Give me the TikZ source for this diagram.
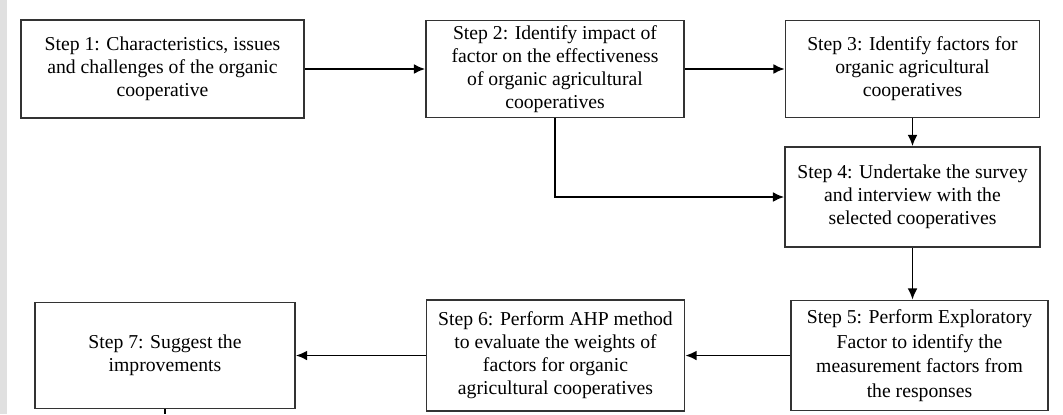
\documentclass[tikz,border=0pt]{standalone}
\usepackage{fontspec}
\setmainfont{Liberation Serif}
\usetikzlibrary{
    arrows.meta,
    positioning
}

\begin{document}
\begin{tikzpicture}[x=0.025cm, y=-0.025cm, >={Latex[length=8pt, width=7pt]}, line width=1.2pt,
    stepbox/.style={draw=black!80, fill=white, align=center, inner sep=0pt,
        font=\fontsize{14}{16.3}\selectfont}]
    \useasboundingbox (0, 0) rectangle (1063, 414);
    \fill[black!12] (0, 0) rectangle (7, 414);

    \node[stepbox, minimum width=7.075cm, minimum height=2.45cm] (s1) at (162.5, 69) {Step 1: Characteristics, issues\\and challenges of the organic\\cooperative};
    \node[stepbox, minimum width=6.45cm, minimum height=2.425cm] (s2) at (555, 69) {Step 2: Identify impact of\\factor on the effectiveness\\of organic agricultural\\cooperatives};
    \node[stepbox, minimum width=6.35cm, minimum height=2.425cm] (s3) at (912.5, 69) {Step 3: Identify factors for\\organic agricultural\\cooperatives};
    \node[stepbox, minimum width=6.375cm, minimum height=2.5cm] (s4) at (912.5, 197) {Step 4: Undertake the survey\\and interview with the\\selected cooperatives};
    \node[stepbox, minimum width=6.425cm, minimum height=2.75cm, font=\fontsize{14}{17.5}\selectfont] (s5) at (919.5, 355.5) {Step 5: Perform Exploratory\\Factor to identify the\\measurement factors from\\the responses};
    \node[stepbox, minimum width=6.45cm, minimum height=2.775cm] (s6) at (555.5, 355.5) {Step 6: Perform AHP method\\to evaluate the weights of\\factors for organic\\agricultural cooperatives};
    \node[stepbox, minimum width=6.5cm, minimum height=2.65cm] (s7) at (165, 355.5) {Step 7: Suggest the\\improvements};
    \coordinate (end) at (165, 414);

    \draw
    (s1) edge[->] (s2)
    (s2) edge[->] (s3)
    (s3) edge[->] (s4)
    (s4.south) edge[->] (s4.south |- s5.north)
    (s5) edge[->] (s6)
    (s6) edge[->] (s7)
    (s7) edge (end);

    \draw[->] (s2) |- (s4);
\end{tikzpicture}
\end{document}
